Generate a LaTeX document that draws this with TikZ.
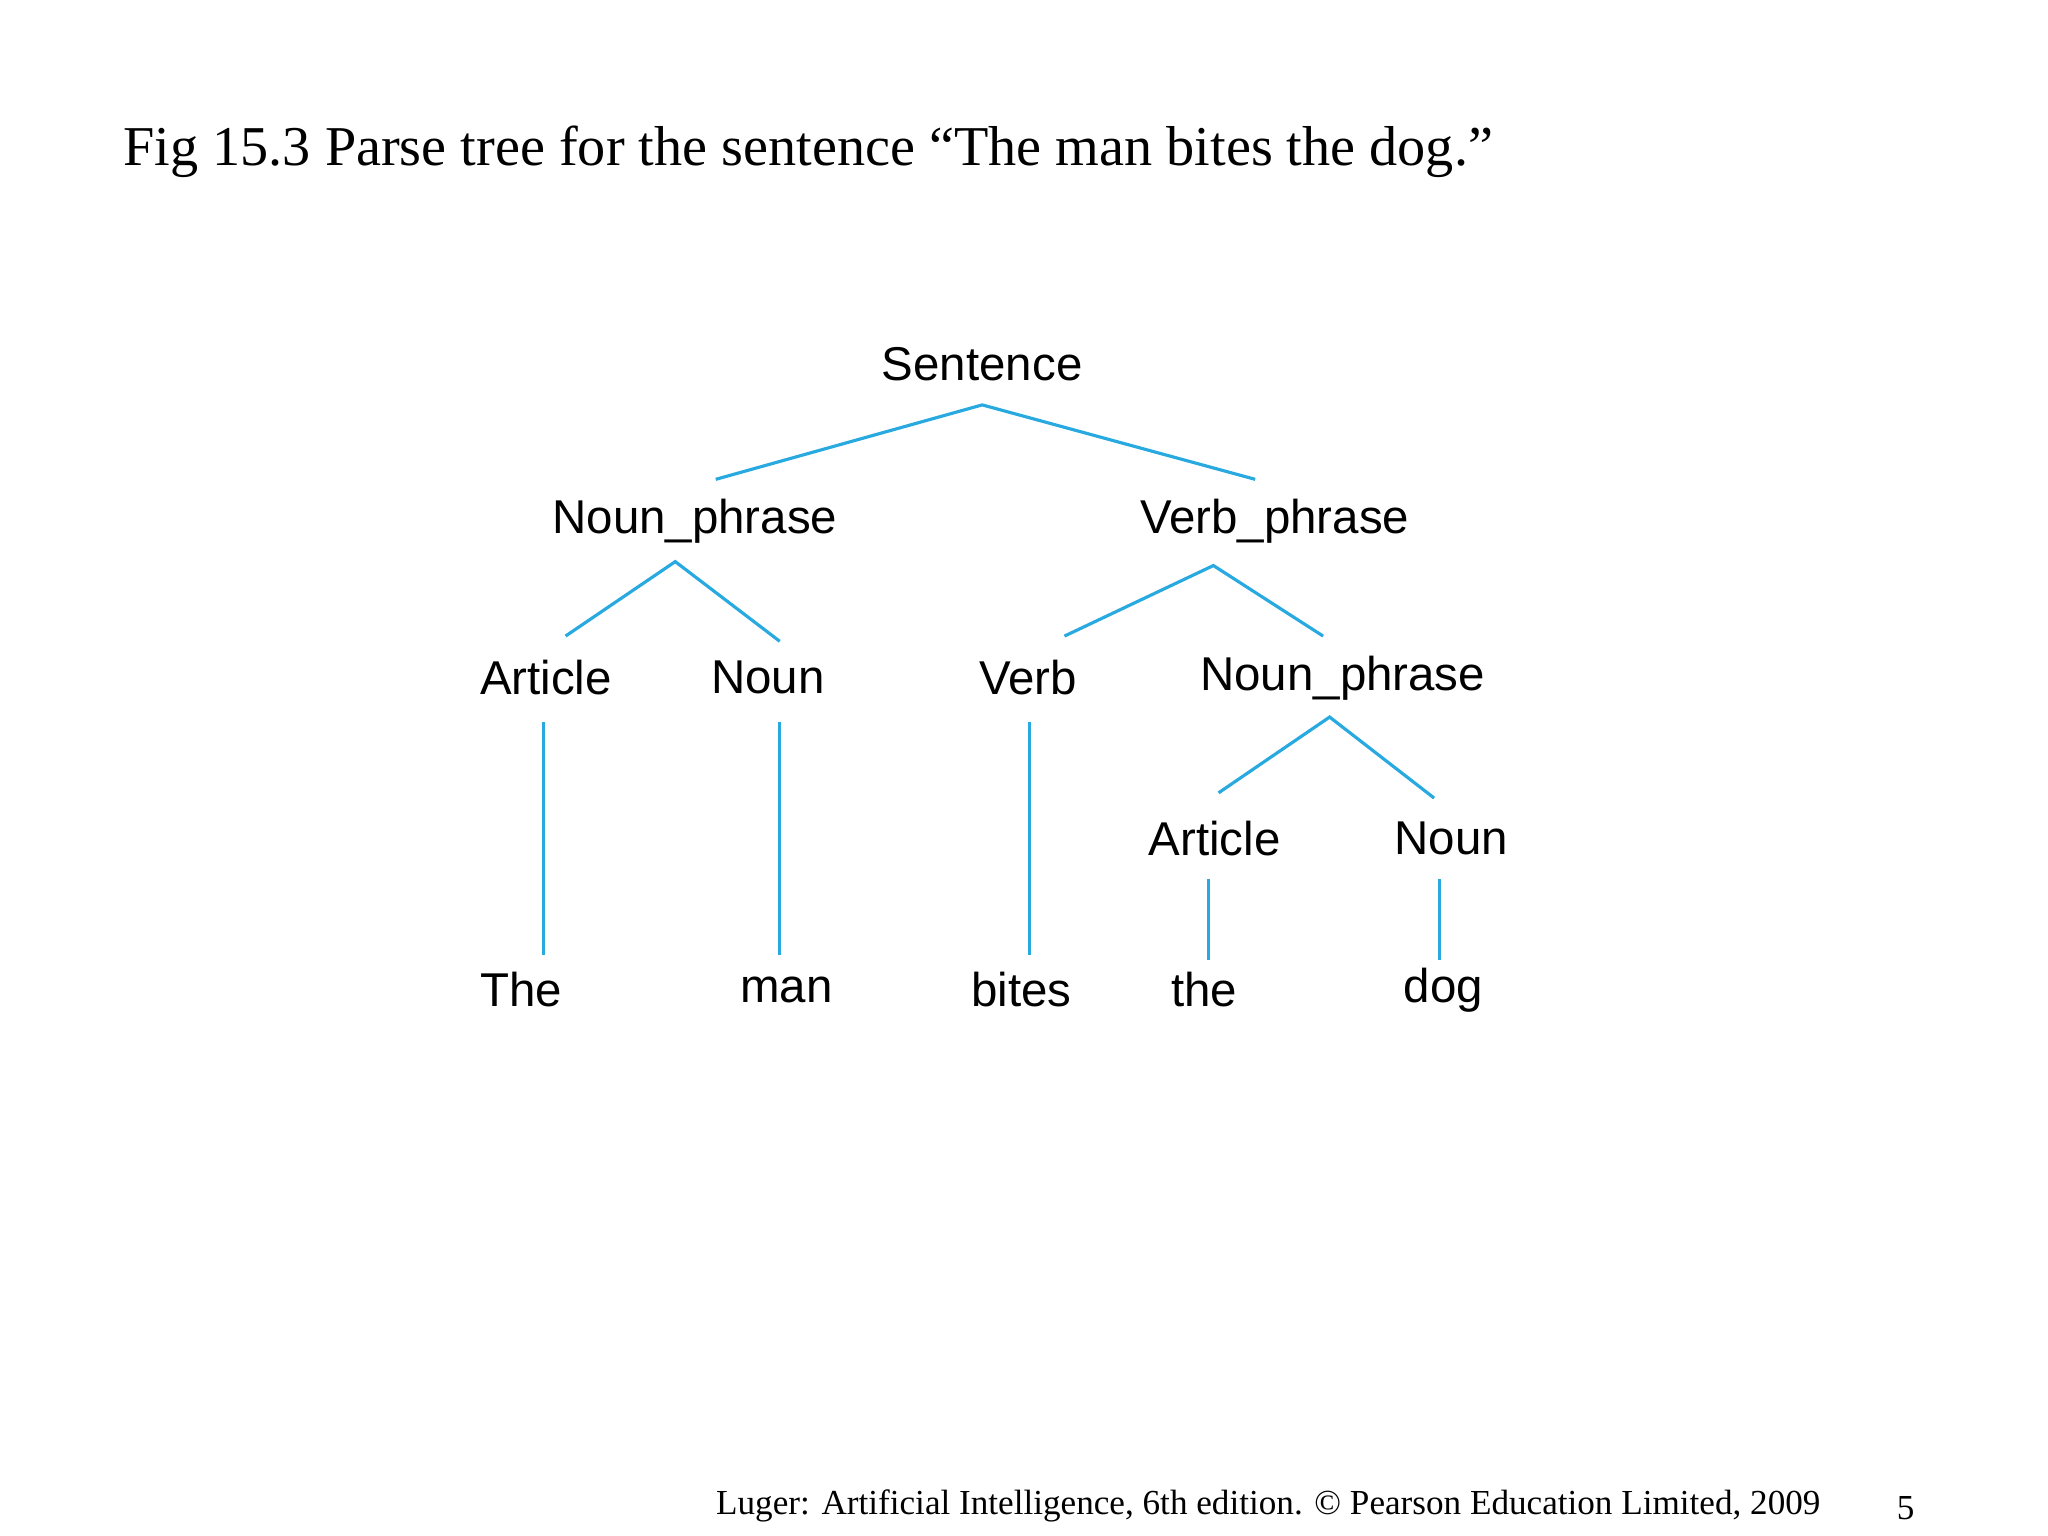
\documentclass[tikz,border=0pt]{standalone}
\usepackage{fontspec}
\setmainfont{Liberation Serif}
\newfontfamily\treefont{Liberation Sans}
\definecolor{lineblue}{RGB}{40,170,225}
\begin{document}
\begin{tikzpicture}[x=0.013061cm,y=-0.013061cm,
  lbl/.style={font=\treefont\fontsize{13.5}{15}\selectfont,inner sep=0pt,anchor=center},
  br/.style={draw=lineblue,line width=0.9pt}]
\useasboundingbox (0,0) rectangle (1568,1176);
\node[anchor=west,inner sep=0pt,font=\fontsize{16}{19}\selectfont] (title) at (94,116) {Fig 15.3 Parse tree for the sentence “The man bites the dog.”};
\node[lbl] (s) at (752,279) {Sentence};
\node[lbl] (np) at (532,399) {Noun\_phrase};
\node[lbl] (vp) at (976,399) {Verb\_phrase};
\node[lbl] (art) at (418,519) {Article};
\node[lbl] (n) at (588,519) {Noun};
\node[lbl] (v) at (787,519) {Verb};
\node[lbl] (np2) at (1028,519) {Noun\_phrase};
\node[lbl] (art2) at (930,642) {Article};
\node[lbl] (n2) at (1111,642) {Noun};
\node[lbl] (w1) at (399,758) {The};
\node[lbl] (w2) at (602,758) {man};
\node[lbl] (w3) at (782,758) {bites};
\node[lbl] (w4) at (922,758) {the};
\node[lbl] (w5) at (1105,758) {dog};
\coordinate (sA) at (752,310); \coordinate (sL) at (548,367); \coordinate (sR) at (961,367);
\coordinate (npA) at (517,430); \coordinate (npL) at (433,487); \coordinate (npR) at (597,491);
\coordinate (vpA) at (929,433); \coordinate (vpL) at (815,487); \coordinate (vpR) at (1013,487);
\coordinate (np2A) at (1018,549); \coordinate (np2L) at (933,607); \coordinate (np2R) at (1098,611);
\coordinate (a1) at (416,553); \coordinate (a1b) at (416,731);
\coordinate (n1) at (597,553); \coordinate (n1b) at (597,731);
\coordinate (v1) at (788,553); \coordinate (v1b) at (788,731);
\coordinate (a2) at (925,673); \coordinate (a2b) at (925,735);
\coordinate (n2t) at (1102,673); \coordinate (n2b) at (1102,735);
\draw[br] (sL) -- (sA) -- (sR);
\draw[br] (npL) -- (npA) -- (npR);
\draw[br] (vpL) -- (vpA) -- (vpR);
\draw[br] (np2L) -- (np2A) -- (np2R);
\draw[br] (a1) -- (a1b);
\draw[br] (n1) -- (n1b);
\draw[br] (v1) -- (v1b);
\draw[br] (a2) -- (a2b);
\draw[br] (n2t) -- (n2b);
\node[inner sep=0pt,font=\fontsize{10}{12}\selectfont] (foot) at (971,1153) {Luger: Artificial Intelligence, 6th edition. © Pearson Education Limited, 2009};
\node[inner sep=0pt,font=\fontsize{10}{12}\selectfont] (pg) at (1459,1155) {5};
\end{tikzpicture}
\end{document}
